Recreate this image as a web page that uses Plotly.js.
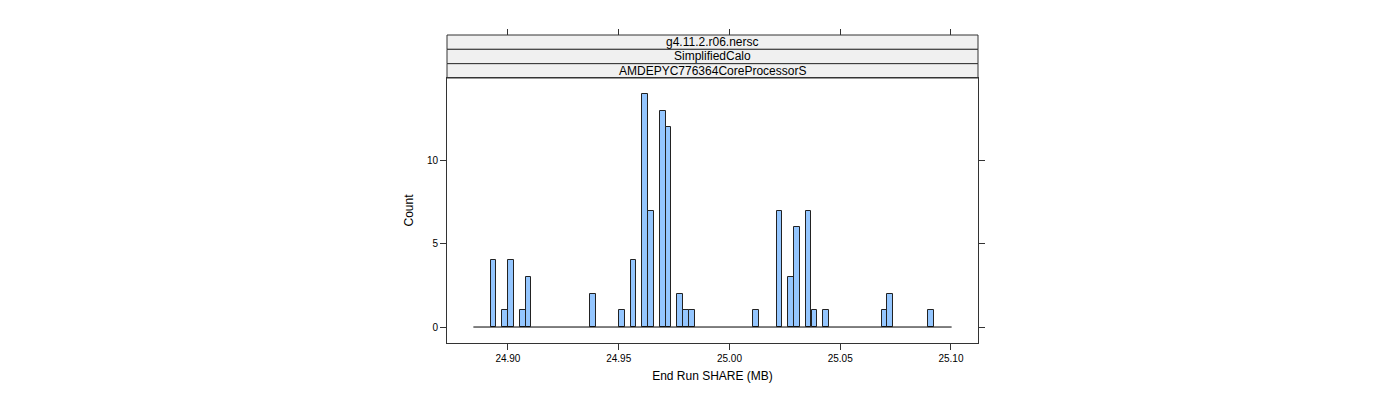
<!DOCTYPE html>
<html>
<head>
<meta charset="utf-8">
<script src="https://cdn.plot.ly/plotly-3.0.1.min.js"></script>
<style>
  body { margin: 0; background: #fff; }
  #chart { width: 1400px; height: 400px; }
</style>
</head>
<body>
<div id="chart"></div>
<script>
// histogram bins (bin centres in MB, counts)
var binCenters = [24.8935, 24.8988, 24.9014, 24.9067, 24.9093, 24.9383, 24.9514, 24.9567,
                  24.9620, 24.9646, 24.9699, 24.9725, 24.9778, 24.9804, 24.9831, 25.0120,
                  25.0226, 25.0278, 25.0305, 25.0357, 25.0384, 25.0436, 25.0700, 25.0726,
                  25.0910];
var counts = [4, 1, 4, 1, 3, 2, 1, 4,
              14, 7, 13, 12, 2, 1, 1, 1,
              7, 3, 6, 7, 1, 1, 1, 2,
              1];
var binWidth = 0.002634;
var breakRange = [24.8844, 25.1003];

var stripLabels = ["g4.11.2.r06.nersc", "SimplifiedCalo", "AMDEPYC776364CoreProcessorS"];
var xTicks = [24.90, 24.95, 25.00, 25.05, 25.10];
var xTickText = ["24.90", "24.95", "25.00", "25.05", "25.10"];
var yTicks = [0, 5, 10];

// layout: panel 447..978 x 78..343, strips 35..78
var panelTop = 78, panelBottom = 343, stripTop = 35;
var yDomTop = (panelBottom - panelTop) / (panelBottom - stripTop);

var baseline = {
  type: "scatter", mode: "lines",
  x: breakRange, y: [0, 0],
  line: {color: "#000000", width: 1},
  hoverinfo: "skip", showlegend: false
};

var bars = {
  type: "bar",
  x: binCenters, y: counts,
  width: binWidth,
  marker: {color: "#94C6FF", line: {color: "#222222", width: 1}},
  showlegend: false
};

var shapes = [];
var annotations = [];
var stripH = (1 - yDomTop) / stripLabels.length;
for (var i = 0; i < stripLabels.length; i++) {
  var y0 = 1 - (i + 1) * stripH;
  shapes.push({
    type: "rect", xref: "paper", yref: "paper",
    x0: 0, x1: 1, y0: y0, y1: y0 + stripH,
    fillcolor: "#F0F0F0", line: {color: "#333333", width: 1}, layer: "below"
  });
  annotations.push({
    xref: "paper", yref: "paper", x: 0.5, y: y0 + stripH / 2,
    xanchor: "center", yanchor: "middle",
    text: stripLabels[i], showarrow: false,
    font: {family: "Liberation Sans, Arial, sans-serif", size: 12, color: "#000"}
  });
}

var layout = {
  width: 1400, height: 400,
  margin: {l: 447, r: 422, t: stripTop, b: 400 - panelBottom, pad: 0},
  paper_bgcolor: "#fff", plot_bgcolor: "#fff",
  bargap: 0,
  font: {family: "Liberation Sans, Arial, sans-serif", color: "#000"},
  xaxis: {
    range: [24.8725, 25.1122],
    tickvals: xTicks, ticktext: xTickText,
    ticks: "outside", ticklen: 6, tickcolor: "#333",
    tickfont: {size: 10},
    showgrid: false, zeroline: false,
    showline: true, linecolor: "#333", linewidth: 1, mirror: true,
    title: {text: "End Run SHARE (MB)", font: {size: 12}, standoff: 8},
    anchor: "y"
  },
  xaxis2: {
    overlaying: "x", matches: "x", side: "top",
    anchor: "free", position: 1,
    tickvals: xTicks, showticklabels: false,
    ticks: "outside", ticklen: 6, tickcolor: "#333",
    showgrid: false, zeroline: false, showline: false
  },
  yaxis: {
    domain: [0, yDomTop],
    range: [-0.96, 14.96],
    tickvals: yTicks,
    ticks: "outside", ticklen: 6, tickcolor: "#333",
    tickfont: {size: 10},
    showgrid: false, zeroline: false,
    showline: true, linecolor: "#333", linewidth: 1, mirror: "ticks",
    title: {text: "Count", font: {size: 12}, standoff: 10}
  },
  shapes: shapes,
  annotations: annotations
};

var topTicks = {
  type: "scatter", mode: "markers", x: [xTicks[0]], y: [0],
  xaxis: "x2", yaxis: "y", marker: {opacity: 0}, hoverinfo: "skip", showlegend: false
};

Plotly.newPlot("chart", [baseline, bars, topTicks], layout, {displayModeBar: false});
</script>
</body>
</html>
